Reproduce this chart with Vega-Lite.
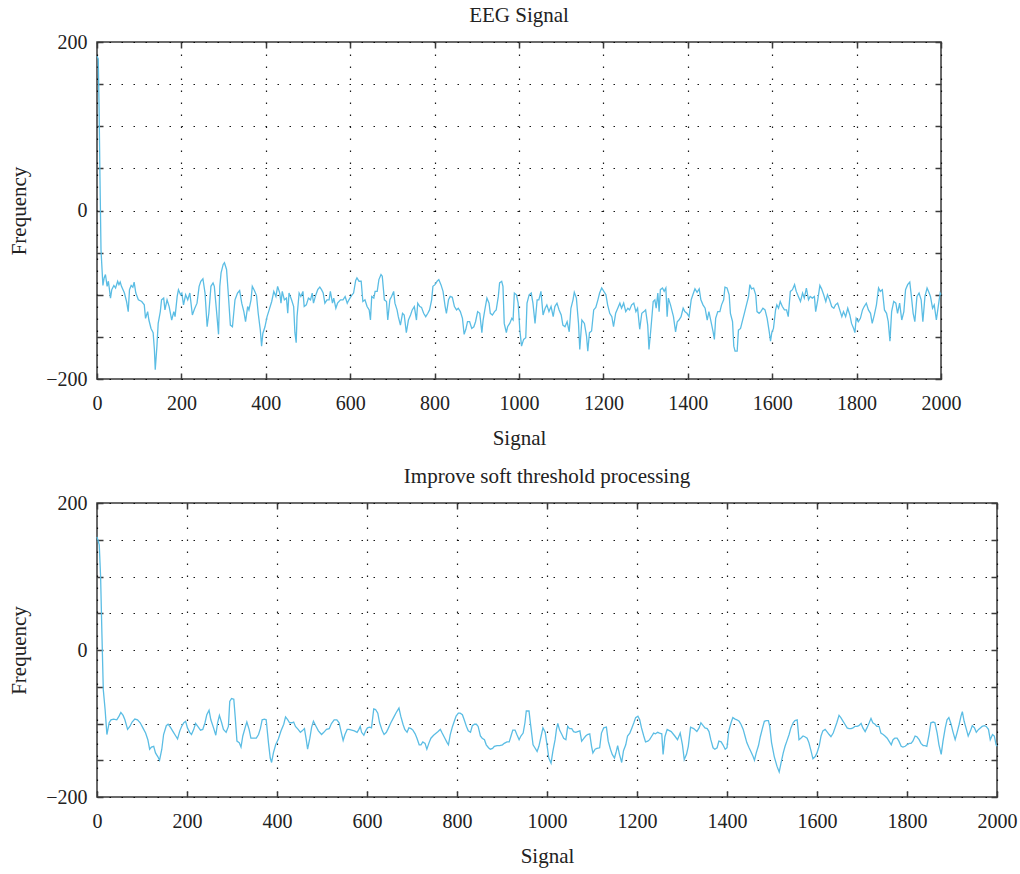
{
 "$schema": "https://vega.github.io/schema/vega-lite/v6.json",
 "padding": {"left": 7, "top": 4, "right": 0, "bottom": 5},
 "background": "white",
 "spacing": 16,
 "datasets": {
  "eeg": [
{"x":0,"y":183},{"x":3,"y":180},{"x":5,"y":120},{"x":7,"y":40},{"x":9.5,"y":-47},{"x":14,"y":-89},{"x":17,"y":-80},{"x":20,"y":-76},{"x":24,"y":-90},{"x":27,"y":-84},{"x":32,"y":-104},{"x":35,"y":-94},{"x":40,"y":-89},{"x":44,"y":-92},{"x":49,"y":-84},{"x":52,"y":-88},{"x":55,"y":-85},{"x":58,"y":-90},{"x":65,"y":-98},{"x":70,"y":-108},{"x":74,"y":-120},{"x":77,"y":-94},{"x":81,"y":-89},{"x":85,"y":-91},{"x":88,"y":-85},{"x":92,"y":-98},{"x":98,"y":-106},{"x":106,"y":-108},{"x":112,"y":-112},{"x":115,"y":-128},{"x":120,"y":-120},{"x":123,"y":-130},{"x":128,"y":-140},{"x":133,"y":-145},{"x":136,"y":-165},{"x":138,"y":-189},{"x":142,"y":-161},{"x":145,"y":-134},{"x":150,"y":-120},{"x":153,"y":-106},{"x":158,"y":-104},{"x":161,"y":-118},{"x":166,"y":-106},{"x":171,"y":-114},{"x":177,"y":-130},{"x":182,"y":-120},{"x":185,"y":-126},{"x":190,"y":-102},{"x":193,"y":-94},{"x":198,"y":-100},{"x":201,"y":-98},{"x":205,"y":-112},{"x":210,"y":-100},{"x":215,"y":-106},{"x":220,"y":-98},{"x":226,"y":-124},{"x":231,"y":-117},{"x":237,"y":-110},{"x":242,"y":-90},{"x":246,"y":-84},{"x":251,"y":-81},{"x":256,"y":-98},{"x":261,"y":-138},{"x":265,"y":-122},{"x":270,"y":-90},{"x":275,"y":-86},{"x":278,"y":-90},{"x":283,"y":-118},{"x":288,"y":-147},{"x":291,"y":-90},{"x":294,"y":-74},{"x":299,"y":-64},{"x":302,"y":-62},{"x":307,"y":-70},{"x":311,"y":-98},{"x":316,"y":-136},{"x":321,"y":-138},{"x":327,"y":-106},{"x":333,"y":-98},{"x":338,"y":-95},{"x":343,"y":-110},{"x":348,"y":-120},{"x":352,"y":-132},{"x":357,"y":-114},{"x":360,"y":-118},{"x":365,"y":-106},{"x":368,"y":-90},{"x":373,"y":-95},{"x":378,"y":-101},{"x":382,"y":-122},{"x":387,"y":-142},{"x":390,"y":-161},{"x":393,"y":-146},{"x":398,"y":-138},{"x":403,"y":-126},{"x":408,"y":-118},{"x":414,"y":-108},{"x":419,"y":-96},{"x":424,"y":-102},{"x":428,"y":-90},{"x":433,"y":-98},{"x":436,"y":-110},{"x":439,"y":-96},{"x":444,"y":-106},{"x":449,"y":-104},{"x":452,"y":-122},{"x":455,"y":-98},{"x":461,"y":-106},{"x":466,"y":-114},{"x":469,"y":-145},{"x":472,"y":-157},{"x":474,"y":-126},{"x":479,"y":-98},{"x":483,"y":-102},{"x":488,"y":-96},{"x":491,"y":-114},{"x":496,"y":-112},{"x":501,"y":-104},{"x":506,"y":-106},{"x":510,"y":-98},{"x":513,"y":-110},{"x":518,"y":-101},{"x":523,"y":-94},{"x":528,"y":-91},{"x":532,"y":-94},{"x":536,"y":-98},{"x":540,"y":-110},{"x":545,"y":-106},{"x":550,"y":-106},{"x":553,"y":-96},{"x":558,"y":-110},{"x":561,"y":-104},{"x":566,"y":-116},{"x":570,"y":-110},{"x":577,"y":-106},{"x":583,"y":-106},{"x":588,"y":-102},{"x":593,"y":-110},{"x":597,"y":-106},{"x":603,"y":-101},{"x":608,"y":-98},{"x":613,"y":-83},{"x":616,"y":-80},{"x":621,"y":-84},{"x":626,"y":-84},{"x":630,"y":-108},{"x":635,"y":-106},{"x":640,"y":-114},{"x":645,"y":-118},{"x":648,"y":-130},{"x":651,"y":-102},{"x":656,"y":-104},{"x":659,"y":-96},{"x":664,"y":-96},{"x":668,"y":-82},
{"x":673,"y":-76},{"x":676,"y":-78},{"x":681,"y":-106},{"x":686,"y":-108},{"x":689,"y":-130},{"x":694,"y":-106},{"x":698,"y":-102},{"x":703,"y":-96},{"x":706,"y":-110},{"x":711,"y":-118},{"x":714,"y":-126},{"x":719,"y":-136},{"x":724,"y":-122},{"x":728,"y":-124},{"x":733,"y":-145},{"x":738,"y":-130},{"x":743,"y":-124},{"x":747,"y":-118},{"x":752,"y":-114},{"x":757,"y":-130},{"x":760,"y":-110},{"x":765,"y":-114},{"x":769,"y":-115},{"x":774,"y":-122},{"x":779,"y":-126},{"x":784,"y":-122},{"x":788,"y":-118},{"x":793,"y":-106},{"x":796,"y":-90},{"x":801,"y":-88},{"x":806,"y":-84},{"x":810,"y":-82},{"x":815,"y":-88},{"x":820,"y":-96},{"x":825,"y":-114},{"x":828,"y":-122},{"x":833,"y":-106},{"x":837,"y":-102},{"x":842,"y":-103},{"x":847,"y":-114},{"x":852,"y":-118},{"x":856,"y":-116},{"x":861,"y":-120},{"x":866,"y":-128},{"x":870,"y":-147},{"x":874,"y":-141},{"x":878,"y":-132},{"x":883,"y":-132},{"x":888,"y":-140},{"x":893,"y":-138},{"x":897,"y":-132},{"x":902,"y":-120},{"x":907,"y":-122},{"x":912,"y":-145},{"x":915,"y":-130},{"x":919,"y":-118},{"x":924,"y":-104},{"x":929,"y":-110},{"x":932,"y":-122},{"x":937,"y":-124},{"x":942,"y":-120},{"x":946,"y":-118},{"x":951,"y":-102},{"x":954,"y":-86},{"x":959,"y":-84},{"x":962,"y":-90},{"x":965,"y":-134},{"x":970,"y":-145},{"x":973,"y":-138},{"x":978,"y":-134},{"x":983,"y":-128},{"x":986,"y":-130},{"x":989,"y":-98},{"x":994,"y":-100},{"x":998,"y":-110},{"x":1002,"y":-142},{"x":1006,"y":-161},{"x":1011,"y":-153},{"x":1016,"y":-151},{"x":1019,"y":-110},{"x":1024,"y":-100},{"x":1029,"y":-98},{"x":1033,"y":-110},{"x":1038,"y":-134},{"x":1043,"y":-106},{"x":1047,"y":-106},{"x":1052,"y":-96},{"x":1057,"y":-124},{"x":1062,"y":-116},{"x":1066,"y":-112},{"x":1071,"y":-120},{"x":1076,"y":-114},{"x":1081,"y":-126},{"x":1085,"y":-114},{"x":1090,"y":-110},{"x":1095,"y":-118},{"x":1100,"y":-124},{"x":1104,"y":-136},{"x":1109,"y":-138},{"x":1114,"y":-132},{"x":1119,"y":-144},{"x":1123,"y":-116},{"x":1128,"y":-106},{"x":1131,"y":-97},{"x":1136,"y":-104},{"x":1141,"y":-134},{"x":1144,"y":-165},{"x":1149,"y":-130},{"x":1155,"y":-134},{"x":1160,"y":-149},{"x":1163,"y":-167},{"x":1167,"y":-145},{"x":1172,"y":-143},{"x":1177,"y":-118},{"x":1182,"y":-115},{"x":1187,"y":-106},{"x":1191,"y":-98},{"x":1196,"y":-92},{"x":1201,"y":-96},{"x":1206,"y":-100},{"x":1210,"y":-112},{"x":1215,"y":-122},{"x":1220,"y":-126},{"x":1224,"y":-138},{"x":1229,"y":-122},{"x":1234,"y":-116},{"x":1239,"y":-110},{"x":1243,"y":-116},{"x":1248,"y":-110},{"x":1253,"y":-120},{"x":1258,"y":-116},{"x":1262,"y":-118},{"x":1267,"y":-112},{"x":1272,"y":-110},{"x":1277,"y":-120},{"x":1281,"y":-116},{"x":1286,"y":-141},{"x":1291,"y":-122},{"x":1296,"y":-120},{"x":1300,"y":-118},{"x":1305,"y":-136},{"x":1308,"y":-165},{"x":1313,"y":-138},{"x":1318,"y":-108},{"x":1322,"y":-106},{"x":1325,"y":-116},{"x":1329,"y":-98},{"x":1332,"y":-120},{"x":1335,"y":-94},{"x":1340,"y":-92},{"x":1344,"y":-96},{"x":1348,"y":-92},{"x":1351,"y":-126},{"x":1354,"y":-104},{"x":1359,"y":-112},{"x":1363,"y":-120},{"x":1366,"y":-126},{"x":1371,"y":-144},{"x":1375,"y":-132},{"x":1379,"y":-130},{"x":1384,"y":-126},{"x":1389,"y":-116},{"x":1393,"y":-120},{"x":1398,"y":-122},{"x":1403,"y":-126},{"x":1408,"y":-106},{"x":1412,"y":-100},{"x":1417,"y":-93},{"x":1422,"y":-97},{"x":1427,"y":-93},{"x":1431,"y":-106},{"x":1436,"y":-112},{"x":1441,"y":-116},{"x":1446,"y":-130},{"x":1450,"y":-120},{"x":1455,"y":-132},{"x":1460,"y":-144},{"x":1463,"y":-153},{"x":1466,"y":-128},{"x":1471,"y":-120},{"x":1476,"y":-120},{"x":1480,"y":-112},{"x":1485,"y":-106},{"x":1488,"y":-91},{"x":1493,"y":-92},{"x":1498,"y":-100},{"x":1501,"y":-122},{"x":1506,"y":-132},{"x":1509,"y":-161},{"x":1512,"y":-167},{"x":1517,"y":-167},{"x":1520,"y":-142},{"x":1525,"y":-140},{"x":1529,"y":-132},{"x":1534,"y":-122},{"x":1539,"y":-112},{"x":1544,"y":-102},{"x":1547,"y":-88},{"x":1551,"y":-93},{"x":1556,"y":-92},{"x":1561,"y":-100},{"x":1564,"y":-120},{"x":1569,"y":-122},{"x":1573,"y":-120},{"x":1578,"y":-116},{"x":1583,"y":-118},{"x":1588,"y":-128},{"x":1593,"y":-144},{"x":1596,"y":-155},{"x":1599,"y":-145},{"x":1603,"y":-140},{"x":1608,"y":-118},{"x":1611,"y":-112},{"x":1615,"y":-116},{"x":1619,"y":-108},{"x":1624,"y":-114},{"x":1629,"y":-118},{"x":1634,"y":-118},{"x":1638,"y":-126},{"x":1643,"y":-96},{"x":1648,"y":-94},{"x":1653,"y":-88},{"x":1657,"y":-96},{"x":1662,"y":-102},{"x":1667,"y":-108},{"x":1672,"y":-98},{"x":1676,"y":-104},{"x":1681,"y":-92},{"x":1686,"y":-106},{"x":1690,"y":-102},{"x":1695,"y":-104},{"x":1700,"y":-102},{"x":1703,"y":-120},{"x":1708,"y":-106},{"x":1713,"y":-89},{"x":1717,"y":-93},{"x":1722,"y":-100},{"x":1727,"y":-108},{"x":1731,"y":-100},{"x":1736,"y":-106},{"x":1741,"y":-114},{"x":1746,"y":-116},{"x":1750,"y":-112},{"x":1755,"y":-110},{"x":1760,"y":-118},{"x":1765,"y":-126},{"x":1769,"y":-120},{"x":1774,"y":-126},{"x":1779,"y":-116},{"x":1784,"y":-124},{"x":1788,"y":-134},{"x":1793,"y":-140},{"x":1796,"y":-145},{"x":1799,"y":-128},{"x":1804,"y":-132},{"x":1809,"y":-128},{"x":1814,"y":-118},{"x":1818,"y":-114},{"x":1823,"y":-110},{"x":1828,"y":-118},{"x":1833,"y":-122},{"x":1837,"y":-134},{"x":1842,"y":-124},{"x":1847,"y":-112},{"x":1852,"y":-92},{"x":1856,"y":-96},{"x":1861,"y":-94},{"x":1866,"y":-118},{"x":1871,"y":-122},{"x":1875,"y":-132},{"x":1879,"y":-155},{"x":1883,"y":-120},{"x":1888,"y":-108},{"x":1893,"y":-110},{"x":1897,"y":-122},{"x":1902,"y":-110},{"x":1907,"y":-130},{"x":1912,"y":-120},{"x":1916,"y":-94},{"x":1921,"y":-88},{"x":1926,"y":-85},{"x":1929,"y":-98},{"x":1934,"y":-122},{"x":1938,"y":-132},{"x":1943,"y":-102},{"x":1948,"y":-98},{"x":1953,"y":-106},{"x":1957,"y":-132},{"x":1962,"y":-102},{"x":1967,"y":-92},{"x":1972,"y":-98},{"x":1975,"y":-102},{"x":1980,"y":-116},{"x":1984,"y":-112},{"x":1989,"y":-130},{"x":1994,"y":-112},{"x":1998,"y":-98},{"x":2000,"y":-100}
  ],
  "soft": [
{"x":0,"y":154},{"x":5,"y":143},{"x":8,"y":100},{"x":11,"y":20},{"x":14,"y":-54},{"x":18,"y":-81},{"x":22,"y":-115},{"x":27,"y":-99},{"x":31,"y":-95},{"x":37,"y":-94},{"x":44,"y":-95},{"x":49,"y":-90},{"x":53,"y":-85},{"x":58,"y":-89},{"x":62,"y":-95},{"x":68,"y":-108},{"x":73,"y":-104},{"x":78,"y":-98},{"x":84,"y":-94},{"x":90,"y":-95},{"x":96,"y":-99},{"x":102,"y":-106},{"x":108,"y":-113},{"x":113,"y":-122},{"x":117,"y":-135},{"x":121,"y":-132},{"x":126,"y":-131},{"x":130,"y":-140},{"x":135,"y":-145},{"x":139,"y":-150},{"x":144,"y":-135},{"x":148,"y":-115},{"x":154,"y":-103},{"x":158,"y":-101},{"x":164,"y":-106},{"x":170,"y":-112},{"x":175,"y":-117},{"x":179,"y":-121},{"x":184,"y":-110},{"x":188,"y":-104},{"x":193,"y":-99},{"x":197,"y":-97},{"x":201,"y":-106},{"x":206,"y":-112},{"x":210,"y":-115},{"x":215,"y":-108},{"x":219,"y":-100},{"x":224,"y":-104},{"x":230,"y":-109},{"x":235,"y":-108},{"x":240,"y":-99},{"x":244,"y":-88},{"x":249,"y":-82},{"x":253,"y":-95},{"x":259,"y":-106},{"x":264,"y":-116},{"x":268,"y":-99},{"x":272,"y":-89},{"x":277,"y":-99},{"x":281,"y":-108},{"x":287,"y":-112},{"x":292,"y":-104},{"x":295,"y":-70},{"x":299,"y":-66},{"x":304,"y":-67},{"x":307,"y":-90},{"x":311,"y":-124},{"x":316,"y":-126},{"x":320,"y":-132},{"x":324,"y":-117},{"x":330,"y":-104},{"x":333,"y":-98},{"x":338,"y":-108},{"x":342,"y":-120},{"x":348,"y":-120},{"x":354,"y":-120},{"x":359,"y":-115},{"x":363,"y":-107},{"x":367,"y":-95},{"x":372,"y":-94},{"x":376,"y":-95},{"x":381,"y":-126},{"x":385,"y":-147},{"x":388,"y":-153},{"x":392,"y":-140},{"x":397,"y":-129},{"x":403,"y":-121},{"x":409,"y":-110},{"x":415,"y":-101},{"x":419,"y":-91},{"x":424,"y":-95},{"x":428,"y":-99},{"x":433,"y":-99},{"x":437,"y":-98},{"x":441,"y":-104},{"x":447,"y":-108},{"x":452,"y":-112},{"x":456,"y":-110},{"x":461,"y":-107},{"x":465,"y":-122},{"x":468,"y":-135},{"x":473,"y":-120},{"x":477,"y":-105},{"x":481,"y":-97},{"x":486,"y":-103},{"x":492,"y":-110},{"x":499,"y":-115},{"x":504,"y":-112},{"x":510,"y":-108},{"x":516,"y":-107},{"x":521,"y":-100},{"x":527,"y":-95},{"x":533,"y":-95},{"x":538,"y":-99},{"x":542,"y":-110},{"x":547,"y":-123},{"x":551,"y":-115},{"x":556,"y":-108},{"x":560,"y":-108},{"x":566,"y":-109},{"x":572,"y":-110},{"x":578,"y":-112},{"x":582,"y":-108},{"x":585,"y":-104},{"x":588,"y":-112},{"x":593,"y":-116},{"x":597,"y":-110},{"x":601,"y":-106},{"x":606,"y":-105},{"x":610,"y":-106},{"x":615,"y":-80},{"x":619,"y":-81},{"x":624,"y":-86},{"x":628,"y":-99},{"x":634,"y":-110},{"x":638,"y":-115},{"x":643,"y":-112},{"x":647,"y":-107},{"x":653,"y":-99},{"x":659,"y":-92},{"x":665,"y":-85},{"x":671,"y":-79},{"x":675,"y":-90},{"x":680,"y":-101},{"x":684,"y":-108},{"x":689,"y":-112},{"x":693,"y":-106},{"x":698,"y":-107},{"x":702,"y":-109},{"x":707,"y":-114},{"x":711,"y":-120},{"x":716,"y":-129},{"x":720,"y":-129},{"x":724,"y":-125},{"x":729,"y":-127},{"x":733,"y":-135},{"x":738,"y":-126},{"x":742,"y":-120},{"x":748,"y":-116},{"x":754,"y":-113},{"x":758,"y":-111},{"x":763,"y":-108},{"x":767,"y":-113},{"x":773,"y":-120},{"x":778,"y":-126},{"x":781,"y":-129},{"x":785,"y":-115},{"x":790,"y":-104},{"x":794,"y":-97},{"x":798,"y":-90},{"x":803,"y":-86},{"x":807,"y":-86},{"x":812,"y":-88},{"x":816,"y":-95},{"x":821,"y":-104},{"x":825,"y":-110},{"x":830,"y":-112},{"x":834,"y":-103},{"x":839,"y":-101},{"x":843,"y":-101},{"x":847,"y":-104},{"x":852,"y":-117},{"x":856,"y":-120},{"x":861,"y":-122},{"x":865,"y":-129},{"x":870,"y":-133},{"x":874,"y":-135},{"x":879,"y":-134},{"x":883,"y":-131},{"x":889,"y":-130},{"x":895,"y":-130},{"x":901,"y":-129},{"x":905,"y":-127},{"x":911,"y":-125},{"x":916,"y":-125},{"x":920,"y":-117},{"x":924,"y":-109},{"x":929,"y":-109},{"x":933,"y":-115},{"x":938,"y":-122},{"x":942,"y":-117},{"x":947,"y":-113},{"x":951,"y":-99},{"x":954,"y":-83},{"x":960,"y":-83},{"x":964,"y":-104},{"x":969,"y":-129},{"x":973,"y":-133},{"x":978,"y":-138},{"x":982,"y":-131},{"x":987,"y":-117},{"x":991,"y":-106},{"x":996,"y":-112},{"x":1000,"y":-129},{"x":1004,"y":-147},{"x":1009,"y":-154},{"x":1013,"y":-138},{"x":1018,"y":-122},{"x":1021,"y":-108},{"x":1024,"y":-100},{"x":1028,"y":-109},{"x":1033,"y":-115},{"x":1037,"y":-120},{"x":1042,"y":-122},{"x":1046,"y":-104},{"x":1050,"y":-107},{"x":1055,"y":-107},{"x":1059,"y":-111},{"x":1064,"y":-112},{"x":1068,"y":-111},{"x":1073,"y":-110},{"x":1077,"y":-124},{"x":1081,"y":-121},{"x":1086,"y":-117},{"x":1090,"y":-115},{"x":1095,"y":-114},{"x":1099,"y":-131},{"x":1102,"y":-140},{"x":1107,"y":-135},{"x":1111,"y":-134},{"x":1117,"y":-133},{"x":1121,"y":-113},{"x":1126,"y":-106},{"x":1132,"y":-105},{"x":1136,"y":-124},{"x":1141,"y":-135},{"x":1145,"y":-142},{"x":1150,"y":-147},{"x":1154,"y":-138},{"x":1157,"y":-130},{"x":1161,"y":-142},{"x":1166,"y":-153},{"x":1170,"y":-137},{"x":1175,"y":-129},{"x":1179,"y":-117},{"x":1184,"y":-113},{"x":1188,"y":-107},{"x":1193,"y":-99},{"x":1197,"y":-92},{"x":1202,"y":-90},{"x":1206,"y":-95},{"x":1210,"y":-106},{"x":1215,"y":-117},{"x":1219,"y":-125},{"x":1224,"y":-124},{"x":1228,"y":-122},{"x":1233,"y":-117},{"x":1237,"y":-113},{"x":1241,"y":-114},{"x":1246,"y":-112},{"x":1250,"y":-113},{"x":1255,"y":-114},{"x":1258,"y":-142},{"x":1262,"y":-118},{"x":1267,"y":-108},{"x":1276,"y":-111},{"x":1284,"y":-117},{"x":1290,"y":-122},{"x":1296,"y":-113},{"x":1301,"y":-129},{"x":1305,"y":-149},{"x":1310,"y":-142},{"x":1314,"y":-131},{"x":1319,"y":-105},{"x":1326,"y":-107},{"x":1333,"y":-111},{"x":1338,"y":-106},{"x":1342,"y":-99},{"x":1347,"y":-103},{"x":1351,"y":-106},{"x":1356,"y":-107},{"x":1360,"y":-111},{"x":1364,"y":-122},{"x":1369,"y":-133},{"x":1373,"y":-135},{"x":1378,"y":-133},{"x":1382,"y":-124},{"x":1387,"y":-125},{"x":1391,"y":-129},{"x":1396,"y":-135},{"x":1400,"y":-133},{"x":1404,"y":-110},{"x":1409,"y":-99},{"x":1413,"y":-92},{"x":1418,"y":-94},{"x":1422,"y":-95},{"x":1427,"y":-97},{"x":1431,"y":-101},{"x":1436,"y":-108},{"x":1440,"y":-117},{"x":1444,"y":-126},{"x":1449,"y":-133},{"x":1453,"y":-138},{"x":1458,"y":-145},{"x":1461,"y":-150},{"x":1465,"y":-140},{"x":1470,"y":-130},{"x":1474,"y":-118},{"x":1479,"y":-106},{"x":1483,"y":-97},{"x":1487,"y":-96},{"x":1492,"y":-96},{"x":1495,"y":-104},{"x":1499,"y":-126},{"x":1505,"y":-145},{"x":1511,"y":-158},{"x":1516,"y":-166},{"x":1520,"y":-154},{"x":1525,"y":-140},{"x":1529,"y":-131},{"x":1533,"y":-124},{"x":1538,"y":-115},{"x":1542,"y":-106},{"x":1547,"y":-99},{"x":1551,"y":-96},{"x":1556,"y":-95},{"x":1560,"y":-122},{"x":1564,"y":-120},{"x":1569,"y":-117},{"x":1573,"y":-118},{"x":1578,"y":-120},{"x":1582,"y":-126},{"x":1587,"y":-138},{"x":1591,"y":-148},{"x":1596,"y":-145},{"x":1600,"y":-140},{"x":1605,"y":-130},{"x":1609,"y":-117},{"x":1613,"y":-110},{"x":1618,"y":-108},{"x":1622,"y":-111},{"x":1627,"y":-115},{"x":1631,"y":-118},{"x":1636,"y":-113},{"x":1640,"y":-106},{"x":1644,"y":-99},{"x":1649,"y":-89},{"x":1653,"y":-92},{"x":1658,"y":-97},{"x":1662,"y":-101},{"x":1667,"y":-106},{"x":1671,"y":-107},{"x":1676,"y":-107},{"x":1680,"y":-106},{"x":1684,"y":-104},{"x":1689,"y":-104},{"x":1693,"y":-103},{"x":1698,"y":-100},{"x":1702,"y":-106},{"x":1707,"y":-111},{"x":1711,"y":-106},{"x":1716,"y":-99},{"x":1720,"y":-93},{"x":1724,"y":-99},{"x":1729,"y":-101},{"x":1733,"y":-104},{"x":1738,"y":-104},{"x":1742,"y":-113},{"x":1747,"y":-115},{"x":1751,"y":-117},{"x":1756,"y":-120},{"x":1760,"y":-124},{"x":1765,"y":-129},{"x":1769,"y":-122},{"x":1773,"y":-120},{"x":1778,"y":-120},{"x":1782,"y":-124},{"x":1787,"y":-131},{"x":1791,"y":-132},{"x":1796,"y":-131},{"x":1800,"y":-129},{"x":1805,"y":-127},{"x":1809,"y":-127},{"x":1813,"y":-124},{"x":1818,"y":-117},{"x":1822,"y":-118},{"x":1827,"y":-122},{"x":1831,"y":-127},{"x":1836,"y":-130},{"x":1840,"y":-130},{"x":1844,"y":-131},{"x":1849,"y":-115},{"x":1853,"y":-99},{"x":1858,"y":-98},{"x":1862,"y":-99},{"x":1867,"y":-113},{"x":1871,"y":-129},{"x":1876,"y":-142},{"x":1880,"y":-124},{"x":1885,"y":-106},{"x":1889,"y":-95},{"x":1893,"y":-92},{"x":1898,"y":-101},{"x":1902,"y":-111},{"x":1907,"y":-122},{"x":1911,"y":-113},{"x":1916,"y":-101},{"x":1920,"y":-90},{"x":1923,"y":-84},{"x":1927,"y":-97},{"x":1932,"y":-108},{"x":1936,"y":-117},{"x":1941,"y":-110},{"x":1945,"y":-103},{"x":1950,"y":-106},{"x":1954,"y":-112},{"x":1959,"y":-108},{"x":1963,"y":-106},{"x":1967,"y":-104},{"x":1972,"y":-103},{"x":1976,"y":-104},{"x":1981,"y":-108},{"x":1985,"y":-122},{"x":1990,"y":-115},{"x":1994,"y":-117},{"x":1998,"y":-129},{"x":2000,"y":-131}
  ]
 },
 "config": {
  "font": "Liberation Serif",
  "view": {"stroke": "#3a3a3a", "strokeWidth": 1.5},
  "title": {"fontSize": 21, "fontWeight": "normal", "font": "Liberation Serif", "color": "#222", "offset": 6},
  "axis": {"labelFont": "Liberation Serif", "labelFontSize": 20, "labelColor": "#222", "titleFont": "Liberation Serif", "titleFontSize": 21, "titleFontWeight": "normal", "titleColor": "#222", "domain": false, "tickColor": "#3a3a3a", "tickWidth": 1.5, "tickSize": -6, "gridColor": "#000", "gridDash": [1.5, 10.5], "gridWidth": 1.2, "gridOpacity": 0.9, "labelFlush": false, "labelOverlap": false, "format": "d"}
 },
 "vconcat": [
  {
   "width": 844, "height": 337,
   "title": "EEG Signal",
   "data": {"name": "eeg"},
   "layer": [
    {"mark": {"type": "line", "color": "#5bbde4", "strokeWidth": 1.3},
     "encoding": {
      "x": {"field": "x", "type": "quantitative", "scale": {"domain": [0, 2000], "nice": false}, "axis": {"values": [0,200,400,600,800,1000,1200,1400,1600,1800,2000], "title": "Signal", "grid": true, "labelPadding": 20, "titlePadding": 14}},
      "y": {"field": "y", "type": "quantitative", "scale": {"domain": [-200, 200], "nice": false}, "axis": {"values": [-200,-150,-100,-50,0,50,100,150,200], "labelExpr": "datum.value % 200 == 0 ? datum.label : ''", "title": "Frequency", "grid": true, "labelPadding": 16, "titlePadding": 16}}
     }},
    {"mark": {"type": "line", "opacity": 0},
     "encoding": {
      "x": {"field": "x", "type": "quantitative", "axis": {"orient": "top", "values": [0,200,400,600,800,1000,1200,1400,1600,1800,2000], "labels": false, "title": null, "grid": false}},
      "y": {"field": "y", "type": "quantitative", "axis": {"orient": "right", "values": [-200,-150,-100,-50,0,50,100,150,200], "labels": false, "title": null, "grid": false}}
     }}
   ],
   "resolve": {"axis": {"x": "independent", "y": "independent"}}
  },
  {
   "width": 900, "height": 294,
   "title": "Improve soft threshold processing",
   "data": {"name": "soft"},
   "layer": [
    {"mark": {"type": "line", "color": "#5bbde4", "strokeWidth": 1.3},
     "encoding": {
      "x": {"field": "x", "type": "quantitative", "scale": {"domain": [0, 2000], "nice": false}, "axis": {"values": [0,200,400,600,800,1000,1200,1400,1600,1800,2000], "title": "Signal", "grid": true, "labelPadding": 20, "titlePadding": 14}},
      "y": {"field": "y", "type": "quantitative", "scale": {"domain": [-200, 200], "nice": false}, "axis": {"values": [-200,-150,-100,-50,0,50,100,150,200], "labelExpr": "datum.value % 200 == 0 ? datum.label : ''", "title": "Frequency", "grid": true, "labelPadding": 16, "titlePadding": 16}}
     }},
    {"mark": {"type": "line", "opacity": 0},
     "encoding": {
      "x": {"field": "x", "type": "quantitative", "axis": {"orient": "top", "values": [0,200,400,600,800,1000,1200,1400,1600,1800,2000], "labels": false, "title": null, "grid": false}},
      "y": {"field": "y", "type": "quantitative", "axis": {"orient": "right", "values": [-200,-150,-100,-50,0,50,100,150,200], "labels": false, "title": null, "grid": false}}
     }}
   ],
   "resolve": {"axis": {"x": "independent", "y": "independent"}}
  }
 ]
}
